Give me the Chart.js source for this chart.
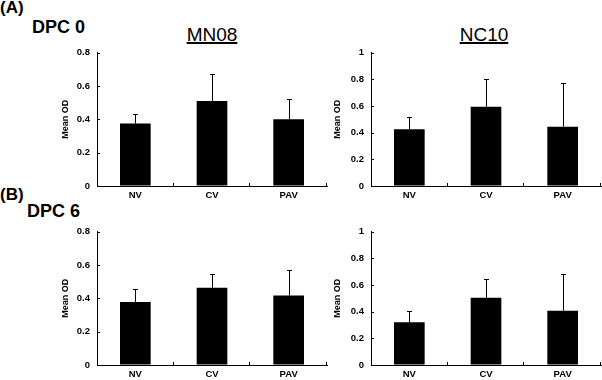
<!DOCTYPE html>
<html>
<head>
<meta charset="utf-8">
<script src="https://cdn.jsdelivr.net/npm/chart.js@4.4.1/dist/chart.umd.min.js"></script>
<style>
  body { margin: 0; background: #fff; }
  #wrap { position: relative; width: 602px; height: 380px; overflow: hidden; font-family: Arial, "Liberation Sans", sans-serif; color: #000; }
  canvas { position: absolute; }
  .lbl { position: absolute; line-height: 1; white-space: nowrap; }
  .panel { font-weight: bold; font-size: 17px; }
  .dpc { font-weight: bold; font-size: 18px; }
  .strain { font-size: 19px; text-decoration: underline; text-decoration-thickness: 1.5px; width: 100px; text-align: center; }
</style>
</head>
<body>
<div id="wrap">
  <div class="lbl panel" style="left:0; top:-1px;">(A)</div>
  <div class="lbl dpc" style="left:32px; top:18px;">DPC 0</div>
  <div class="lbl strain" style="left:162px; top:25px;">MN08</div>
  <div class="lbl strain" style="left:434px; top:25px;">NC10</div>
  <div class="lbl panel" style="left:0; top:186px;">(B)</div>
  <div class="lbl dpc" style="left:27px; top:202px;">DPC 6</div>

  <canvas id="a1" width="285" height="160" style="left:50px; top:40px;"></canvas>
  <canvas id="a2" width="278" height="160" style="left:324px; top:40px;"></canvas>
  <canvas id="b1" width="285" height="160" style="left:50px; top:219px;"></canvas>
  <canvas id="b2" width="278" height="160" style="left:324px; top:219px;"></canvas>
</div>
<script>
// groups on the x axis
const groups = ["NV", "CV", "PAV"];

// DPC 0
const mn08Day0Mean = [0.375, 0.51, 0.40];
const mn08Day0Sd   = [0.06, 0.16, 0.12];
const nc10Day0Mean = [0.425, 0.595, 0.445];
const nc10Day0Sd   = [0.095, 0.205, 0.33];

// DPC 6
const mn08Day6Mean = [0.378, 0.463, 0.417];
const mn08Day6Sd   = [0.078, 0.082, 0.152];
const nc10Day6Mean = [0.32, 0.505, 0.407];
const nc10Day6Sd   = [0.086, 0.14, 0.278];

const mn08Max = 0.8;
const nc10Max = 1;

const tickFont = { family: "Arial, 'Liberation Sans', sans-serif", size: 9.5, weight: "bold" };

// upward error whiskers + the small inward ticks on both axes
const errorBars = {
    id: "errorBars",
    afterDatasetsDraw(chart, args, opts) {
        const { ctx, chartArea, scales: { x, y } } = chart;
        const meta = chart.getDatasetMeta(0);
        ctx.save();
        ctx.strokeStyle = "#000";
        ctx.lineWidth = 1;
        ctx.beginPath();
        opts.sd.forEach((sd, i) => {
            const bar = meta.data[i];
            const cx = Math.round(bar.x) + 0.5;
            const top = Math.round(y.getPixelForValue(chart.data.datasets[0].data[i] + sd)) + 0.5;
            ctx.moveTo(cx, bar.y);
            ctx.lineTo(cx, top);
            ctx.moveTo(cx - 2.5, top);
            ctx.lineTo(cx + 2.5, top);
        });
        // y ticks pointing into the plot
        y.ticks.forEach((t) => {
            const py = Math.round(y.getPixelForValue(t.value)) + 0.5;
            ctx.moveTo(chartArea.left, py);
            ctx.lineTo(chartArea.left + 3, py);
        });
        // x ticks between groups and at the end
        const step = (chartArea.right - chartArea.left) / groups.length;
        for (let i = 1; i <= groups.length; i++) {
            const px = Math.round(chartArea.left + step * i) - 0.5;
            ctx.moveTo(px, chartArea.bottom);
            ctx.lineTo(px, chartArea.bottom - 3);
        }
        ctx.stroke();
        ctx.restore();
    }
};

function makeChart(id, means, sds, yMax, titlePad, padRight) {
    return new Chart(document.getElementById(id), {
        type: "bar",
        data: {
            labels: groups,
            datasets: [{
                data: means,
                backgroundColor: "#000",
                borderWidth: 0,
                barPercentage: 0.4,
                categoryPercentage: 1
            }]
        },
        options: {
            responsive: false,
            animation: false,
            devicePixelRatio: 1,
            layout: { padding: { top: 7, right: padRight, left: 0, bottom: 0 } },
            plugins: {
                legend: { display: false },
                tooltip: { enabled: false },
                errorBars: { sd: sds }
            },
            scales: {
                x: {
                    grid: { drawOnChartArea: false, drawTicks: false },
                    border: { color: "#000", width: 1 },
                    ticks: { color: "#000", font: tickFont, padding: 4 },
                    afterFit: (s) => { s.height = 14; }
                },
                y: {
                    min: 0,
                    max: yMax,
                    grid: { drawOnChartArea: false, drawTicks: false },
                    border: { color: "#000", width: 1 },
                    ticks: {
                        stepSize: 0.2,
                        color: "#000",
                        font: tickFont,
                        padding: 7,
                        // "1" and "0" rather than "1.0" / "0.0"
                        callback: (v) => String(Number(v.toFixed(1)))
                    },
                    title: {
                        display: true,
                        text: "Mean OD",
                        color: "#000",
                        font: { family: tickFont.family, size: 9, weight: "bold" },
                        padding: { top: titlePad, bottom: 0 }
                    },
                    afterFit: (s) => { s.width = 47; }
                }
            }
        },
        plugins: [errorBars]
    });
}

makeChart("a1", mn08Day0Mean, mn08Day0Sd, mn08Max, 10, 8);
makeChart("a2", nc10Day0Mean, nc10Day0Sd, nc10Max, 8, 1);
makeChart("b1", mn08Day6Mean, mn08Day6Sd, mn08Max, 10, 8);
makeChart("b2", nc10Day6Mean, nc10Day6Sd, nc10Max, 8, 1);
</script>
</body>
</html>
